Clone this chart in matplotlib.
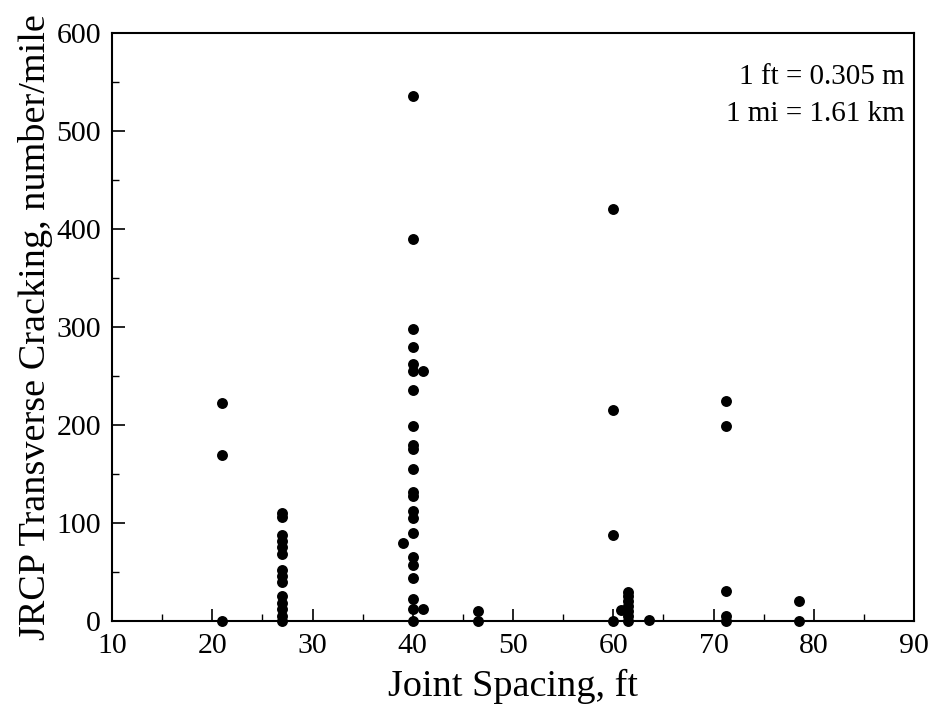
import matplotlib
matplotlib.use("Agg")
import matplotlib.pyplot as plt
from matplotlib.ticker import MultipleLocator

# Joint spacing (ft) and transverse cracking (number/mile)
x_21 = [21, 21, 21]
y_21 = [222, 169, 0]
x_27 = [27] * 14
y_27 = [110, 106, 88, 82, 75, 68, 52, 46, 40, 25, 18, 12, 5, 0]
x_40 = [40] * 22
y_40 = [536, 390, 298, 280, 262, 255, 236, 199, 180, 176, 155, 132, 128,
        112, 105, 90, 65, 57, 44, 22, 12, 0]
x_other40 = [39, 41, 41]
y_other40 = [80, 255, 12]
x_46 = [46.5, 46.5]
y_46 = [10, 0]
x_60 = [60, 60, 60, 60, 60.8, 61.5, 61.5, 61.5, 61.5, 61.5, 61.5, 61.5, 63.6]
y_60 = [420, 215, 88, 0, 11, 30, 25, 20, 15, 10, 5, 0, 1]
x_71 = [71.2, 71.2, 71.2, 71.2, 71.2]
y_71 = [224, 199, 31, 5, 0]
x_78 = [78.5, 78.5]
y_78 = [20, 0]

xs = x_21 + x_27 + x_40 + x_other40 + x_46 + x_60 + x_71 + x_78
ys = y_21 + y_27 + y_40 + y_other40 + y_46 + y_60 + y_71 + y_78

plt.rcParams['font.family'] = ['Liberation Serif', 'DejaVu Serif']

fig = plt.figure(figsize=(9.32, 7.11), dpi=100)
ax = fig.add_axes([0.1202, 0.1266, 0.8605, 0.827])
ax.scatter(xs, ys, s=62, color='black', zorder=3, clip_on=False, linewidths=0)

ax.set_xlim(10, 90)
ax.set_ylim(0, 600)
ax.xaxis.set_major_locator(MultipleLocator(10))
ax.xaxis.set_minor_locator(MultipleLocator(5))
ax.yaxis.set_major_locator(MultipleLocator(100))
ax.yaxis.set_minor_locator(MultipleLocator(50))
ax.tick_params(which='major', direction='in', length=9, width=1.2, labelsize=21.5,
               top=False, right=False)
ax.tick_params(axis='x', which='major', pad=9)
ax.tick_params(axis='y', which='major', pad=8)
ax.tick_params(which='minor', direction='in', length=5, width=1.0,
               top=False, right=False)
for sp in ax.spines.values():
    sp.set_linewidth(1.5)

ax.set_xlabel('Joint Spacing, ft', fontsize=27.5, labelpad=7)
ax.set_ylabel('JRCP Transverse Cracking, number/mile', fontsize=27.5, labelpad=2)

ax.text(0.988, 0.84, '1 ft = 0.305 m\n1 mi = 1.61 km', transform=ax.transAxes,
        ha='right', va='bottom', fontsize=21, linespacing=1.55)

fig.savefig('out.png', dpi=100)
